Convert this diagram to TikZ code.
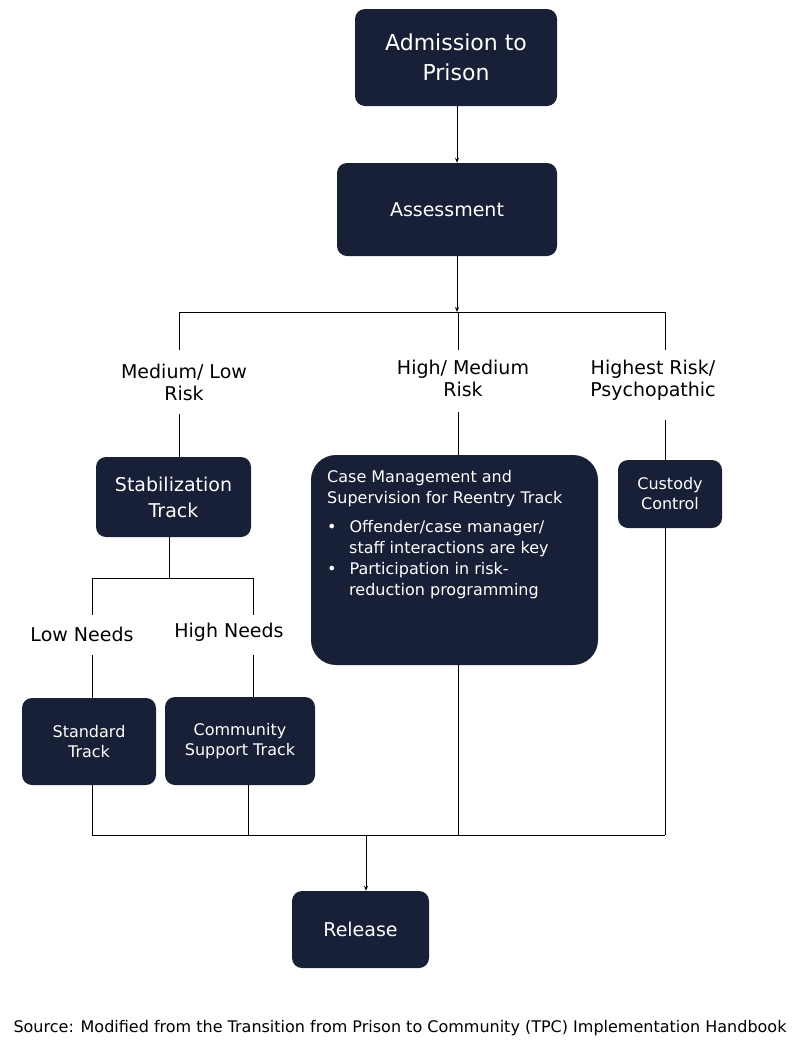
\documentclass[tikz,border=0pt]{standalone}
\usepackage{fontspec}
\setmainfont{DejaVu Sans}
\usetikzlibrary{arrows.meta}
\definecolor{navy}{HTML}{172036}
\begin{document}
\begin{tikzpicture}[x=1pt,y=-1pt,
  box/.style={fill=navy,text=white,rounded corners=10pt,align=center,inner sep=0pt},
  lab/.style={align=center,font=\fontsize{19}{22}\selectfont,inner sep=1pt},
  ln/.style={draw=black,line width=0.8pt},
  arr/.style={ln,-{Stealth[length=5pt,width=4pt]}}]
\useasboundingbox (0,0) rectangle (800,1042);
\node[box,minimum width=202pt,minimum height=97pt,font=\fontsize{22}{30}\selectfont] (adm) at (456,57.5) {Admission to\\Prison};
\node[box,minimum width=220pt,minimum height=93pt,font=\fontsize{19}{24}\selectfont] (ass) at (447,209.5) {Assessment};
\node[box,minimum width=155pt,minimum height=80pt,font=\fontsize{19}{26}\selectfont] (stab) at (173.5,497) {Stabilization\\Track};
\node[box,rounded corners=25pt,minimum width=287pt,minimum height=210pt] (case) at (454.5,560) {};
\node[text=white,align=left,anchor=north west,font=\fontsize{16}{21}\selectfont,inner sep=0pt] (casetxt) at (327,470) {Case Management and\\Supervision for Reentry Track\\[8pt]
\textbullet\hspace{13pt}Offender/case manager/\\\hspace{22pt}staff interactions are key\\
\textbullet\hspace{13pt}Participation in risk-\\\hspace{22pt}reduction programming};
\node[box,minimum width=104pt,minimum height=68pt,font=\fontsize{16}{20}\selectfont] (cust) at (670,494) {Custody\\Control};
\node[box,minimum width=134pt,minimum height=87pt,font=\fontsize{16}{20}\selectfont] (std) at (89,741.5) {Standard\\Track};
\node[box,minimum width=150pt,minimum height=88pt,font=\fontsize{16}{20}\selectfont] (comm) at (240,741) {Community\\Support Track};
\node[box,minimum width=137pt,minimum height=77pt,font=\fontsize{19}{24}\selectfont] (rel) at (360.5,929.5) {Release};

\node[lab] (l1) at (184,382) {Medium/ Low\\Risk};
\node[lab] (l2) at (463,378) {High/ Medium\\Risk};
\node[lab] (l3) at (653,380) {Highest Risk/\\Psychopathic};
\node[lab] (l4) at (82,634) {Low Needs};
\node[lab] (l5) at (229,632) {High Needs};
\node[font=\fontsize{16}{20}\selectfont,inner sep=0pt] (src) at (400,1028) {Source: Modified from the Transition from Prison to Community (TPC) Implementation Handbook};

\coordinate (j1) at (457,312); \coordinate (a) at (179,312); \coordinate (b) at (665,312);
\coordinate (j2) at (169,578); \coordinate (c) at (92,578); \coordinate (d) at (253,578);
\coordinate (j3) at (366,835); \coordinate (e) at (92,835); \coordinate (f) at (665,835);

\draw[arr] (adm.south -| 457,0) -- (ass.north -| 457,0);
\draw[arr] (ass.south -| 457,0) -- (j1);
\draw[ln] (a) -- (b);
\draw[ln] (a) -- (179,350); \draw[ln] (179,414) -- (179,457);
\draw[ln] (458,312) -- (458,350); \draw[ln] (458,412) -- (case.north -| 458,0);
\draw[ln] (b) -- (665,350); \draw[ln] (665,420) -- (cust.north -| 665,0);
\draw[ln] (stab.south -| j2) -- (j2);
\draw[ln] (c) -- (d);
\draw[ln] (c) -- (92,615); \draw[ln] (92,655) -- (std.north -| 92,0);
\draw[ln] (d) -- (253,615); \draw[ln] (253,655) -- (comm.north -| 253,0);
\draw[ln] (e) -- (f);
\draw[ln] (std.south -| 92,0) -- (e);
\draw[ln] (comm.south -| 248,0) -- (248,835);
\draw[ln] (case.south -| 458,0) -- (458,835);
\draw[ln] (cust.south -| 665,0) -- (f);
\draw[arr] (j3) -- (rel.north -| j3);
\end{tikzpicture}
\end{document}
